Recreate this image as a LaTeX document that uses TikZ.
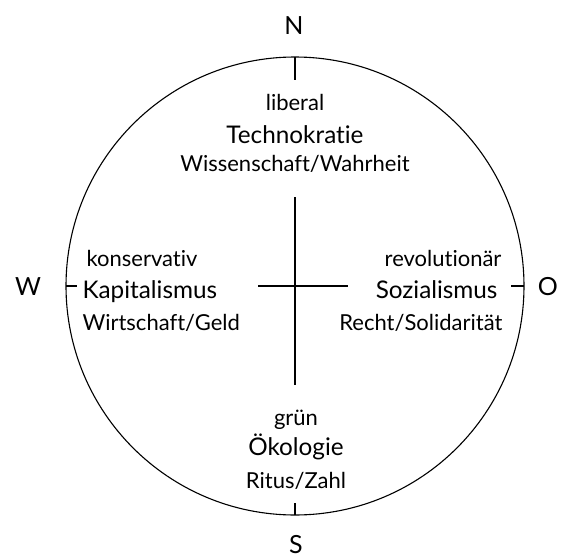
\documentclass[tikz,border=0pt]{standalone}
\usepackage{fontspec}
\setmainfont{Lato}[Ligatures=NoCommon]
\usetikzlibrary{calc}

\begin{document}
\begin{tikzpicture}[x=1pt, y=-1pt, line width=1.1pt,
    small/.style={font=\fontsize{22}{26}\selectfont, inner sep=0pt},
    big/.style={font=\fontsize{24.3}{29}\selectfont, inner sep=0pt},
    dir/.style={font=\fontsize{25}{30}\selectfont, inner sep=0pt}]
    \useasboundingbox (0,0) rectangle (563,557);
    \coordinate (M) at (295,286);
    \draw (M) circle (229);
    % ticks on the circle
    \coordinate (Ntop) at ($(M)+(0,-229)$);
    \coordinate (Nend) at ($(M)+(0,-206)$);
    \coordinate (Sbot) at ($(M)+(0,229)$);
    \coordinate (Send) at ($(M)+(0,217)$);
    \coordinate (Wout) at ($(M)+(-229,0)$);
    \coordinate (Wend) at ($(M)+(-218,0)$);
    \coordinate (Oout) at ($(M)+(229,0)$);
    \coordinate (Oend) at ($(M)+(216,0)$);
    \draw (Ntop) -- (Nend) (Sbot) -- (Send) (Wout) -- (Wend) (Oout) -- (Oend);
    % the cross
    \coordinate (Vtop) at (295,197);
    \coordinate (Vbot) at (295,385);
    \coordinate (Hleft) at (258,286);
    \coordinate (Hright) at (348,286);
    \draw (Vtop) -- (Vbot) (Hleft) -- (Hright);
    % directions
    \node[dir] (N) at (294,26) {N};
    \node[dir, anchor=base] (S) at (296,553) {S};
    \node[dir] (W) at (28,287) {W};
    \node[dir] (O) at (548,287) {O};
    % north
    \node[small, anchor=base] (lib) at (295,110) {liberal};
    \node[big, anchor=base] (tech) at (295,143) {Technokratie};
    \node[small, anchor=base] (wiss) at (295,171) {Wissenschaft/Wahrheit};
    % west
    \node[small, anchor=base west] (kons) at (86,266) {konservativ};
    \node[big, anchor=base west] (kap) at (82,298) {Kapitalismus};
    \node[small, anchor=base west] (wirt) at (82,330) {Wirtschaft/Geld};
    % east
    \node[small, anchor=base east] (rev) at (502,266) {revolutionär};
    \node[big, anchor=base east] (soz) at (498,298) {Sozialismus};
    \node[small, anchor=base east] (recht) at (503,330) {Recht/Solidarität};
    % south
    \node[small, anchor=base] (gruen) at (296,425) {grün};
    \node[big, anchor=base] (oeko) at (296,455) {Ökologie};
    \node[small, anchor=base] (ritus) at (296,488) {Ritus/Zahl};
\end{tikzpicture}
\end{document}
